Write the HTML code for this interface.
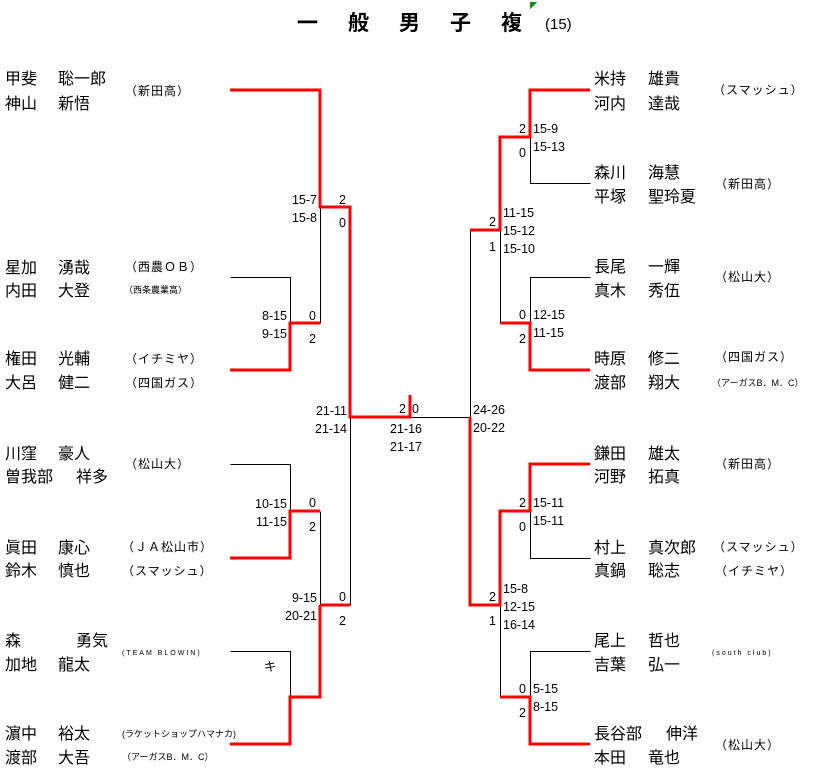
<!DOCTYPE html>
<html><head><meta charset="utf-8"><style>
html,body{margin:0;padding:0;background:#fff;}
svg{display:block;}
text{font-family:"Liberation Sans","Noto Sans CJK JP",sans-serif;fill:#000;}
.n{font-size:16px;}
.a{font-size:12px;letter-spacing:1px;}
.s{font-size:9px;}
.t{font-size:7px;letter-spacing:2px;}
.c{font-size:12.5px;}
</style></head><body>
<svg width="821" height="769" viewBox="0 0 821 769" xmlns="http://www.w3.org/2000/svg" shape-rendering="crispEdges">
<text x="297" y="30" style="font-size:21px;font-weight:bold;letter-spacing:30px;" font-family="Noto Sans CJK JP">一般男子複</text>
<text x="545" y="29" style="font-size:15px;">(15)</text>
<polygon points="530,2 537,2 530,9" fill="#1a8a1a"/>

<g fill="none" stroke="#000" stroke-width="1" transform="translate(0.5,0.5)">
<path d="M230,277H290V323"/><path d="M320,207V323"/>
<path d="M230,464H290V511"/><path d="M350,417V605"/>
<path d="M320,511V605"/><path d="M230,651H290V697"/>
<path d="M410,417H470"/>
<path d="M590,183H530V137"/><path d="M500,230V323"/><path d="M590,277H530V323"/>
<path d="M470,230V417"/>
<path d="M590,558H530V511"/><path d="M590,651H530V697"/><path d="M500,605V697"/>
</g>
<g fill="none" stroke="#f00" stroke-width="3">
<path d="M230,90H320V207H350V417H410V395"/>
<path d="M230,370H290V323H320"/>
<path d="M230,558H290V511H320"/>
<path d="M320,605H350"/>
<path d="M230,744H290V697H320V605"/>
<path d="M590,90H530V137H500V230H470"/>
<path d="M590,370H530V323H500"/>
<path d="M590,464H530V511H500V605H470V417"/>
<path d="M590,744H530V697H500"/>
</g>

<g class="n">
<text x="5" y="84">甲斐</text><text x="58" y="84">聡一郎</text>
<text x="5" y="109">神山</text><text x="58" y="109">新悟</text>
<text x="5" y="273">星加</text><text x="58" y="273">湧哉</text>
<text x="5" y="296">内田</text><text x="58" y="296">大登</text>
<text x="5" y="364">権田</text><text x="58" y="364">光輔</text>
<text x="5" y="388">大呂</text><text x="58" y="388">健二</text>
<text x="5" y="459">川窪</text><text x="58" y="459">豪人</text>
<text x="5" y="482">曽我部</text><text x="76" y="482">祥多</text>
<text x="5" y="553">眞田</text><text x="58" y="553">康心</text>
<text x="5" y="576">鈴木</text><text x="58" y="576">慎也</text>
<text x="5" y="646">森</text><text x="76" y="646">勇気</text>
<text x="5" y="670">加地</text><text x="58" y="670">龍太</text>
<text x="5" y="739">濵中</text><text x="58" y="739">裕太</text>
<text x="5" y="763">渡部</text><text x="58" y="763">大吾</text>

<text x="594" y="84">米持</text><text x="648" y="84">雄貴</text>
<text x="594" y="109">河内</text><text x="648" y="109">達哉</text>
<text x="594" y="178">森川</text><text x="648" y="178">海慧</text>
<text x="594" y="202">平塚</text><text x="648" y="202">聖玲夏</text>
<text x="594" y="272">長尾</text><text x="648" y="272">一輝</text>
<text x="594" y="296">真木</text><text x="648" y="296">秀伍</text>
<text x="594" y="364">時原</text><text x="648" y="364">修二</text>
<text x="594" y="388">渡部</text><text x="648" y="388">翔大</text>
<text x="594" y="459">鎌田</text><text x="648" y="459">雄太</text>
<text x="594" y="482">河野</text><text x="648" y="482">拓真</text>
<text x="594" y="553">村上</text><text x="648" y="553">真次郎</text>
<text x="594" y="576">真鍋</text><text x="648" y="576">聡志</text>
<text x="594" y="646">尾上</text><text x="648" y="646">哲也</text>
<text x="594" y="670">吉葉</text><text x="648" y="670">弘一</text>
<text x="594" y="739">長谷部</text><text x="666" y="739">伸洋</text>
<text x="594" y="763">本田</text><text x="648" y="763">竜也</text>
</g>
<g class="a">
<text x="125" y="95">（新田高）</text>
<text x="125" y="271">（西農ＯＢ）</text>
<text x="125" y="363">（イチミヤ）</text>
<text x="125" y="387">（四国ガス）</text>
<text x="125" y="468">（松山大）</text>
<text x="122" y="551">（ＪＡ松山市）</text>
<text x="122" y="575">（スマッシュ）</text>
<text x="713" y="94">（スマッシュ）</text>
<text x="715" y="188">（新田高）</text>
<text x="715" y="281">（松山大）</text>
<text x="715" y="361">（四国ガス）</text>
<text x="715" y="468">（新田高）</text>
<text x="713" y="551">（スマッシュ）</text>
<text x="715" y="575">（イチミヤ）</text>
<text x="715" y="749">（松山大）</text>
</g>
<g class="s">
<text x="124" y="293">（西条農業高）</text>
<text x="122" y="737">(ラケットショップハマナカ)</text>
<text x="122" y="760">（アーガスB．M．C）</text>
<text x="712" y="386">（アーガスB．M．C）</text>
</g>
<text class="t" x="122" y="655">(TEAM BLOWIN)</text>
<text class="t" x="712" y="655">(south club)</text>

<g class="c" text-anchor="end">
<text x="317" y="204">15-7</text><text x="317" y="222">15-8</text>
<text x="287" y="320">8-15</text><text x="287" y="338">9-15</text>
<text x="347" y="415">21-11</text><text x="347" y="433">21-14</text>
<text x="287" y="508">10-15</text><text x="287" y="526">11-15</text>
<text x="317" y="602">9-15</text><text x="317" y="620">20-21</text>
</g>
<g class="c">
<text x="339" y="204">2</text><text x="339" y="227">0</text>
<text x="309" y="320">0</text><text x="309" y="343">2</text>
<text x="399" y="413">2</text><text x="412" y="413">0</text>
<text x="390" y="433">21-16</text><text x="390" y="451">21-17</text>
<text x="309" y="507">0</text><text x="309" y="531">2</text>
<text x="339" y="601">0</text><text x="339" y="625">2</text>
<text x="264" y="671">キ</text>

<text x="519" y="133">2</text><text x="519" y="157">0</text>
<text x="533" y="133">15-9</text><text x="533" y="151">15-13</text>
<text x="489" y="226">2</text><text x="489" y="251">1</text>
<text x="503" y="217">11-15</text><text x="503" y="235">15-12</text><text x="503" y="253">15-10</text>
<text x="519" y="319">0</text><text x="519" y="343">2</text>
<text x="533" y="319">12-15</text><text x="533" y="337">11-15</text>
<text x="473" y="414">24-26</text><text x="473" y="432">20-22</text>
<text x="519" y="507">2</text><text x="519" y="531">0</text>
<text x="533" y="507">15-11</text><text x="533" y="525">15-11</text>
<text x="489" y="601">2</text><text x="489" y="625">1</text>
<text x="503" y="593">15-8</text><text x="503" y="611">12-15</text><text x="503" y="629">16-14</text>
<text x="519" y="693">0</text><text x="519" y="717">2</text>
<text x="533" y="693">5-15</text><text x="533" y="711">8-15</text>
</g>
</svg>
</body></html>
